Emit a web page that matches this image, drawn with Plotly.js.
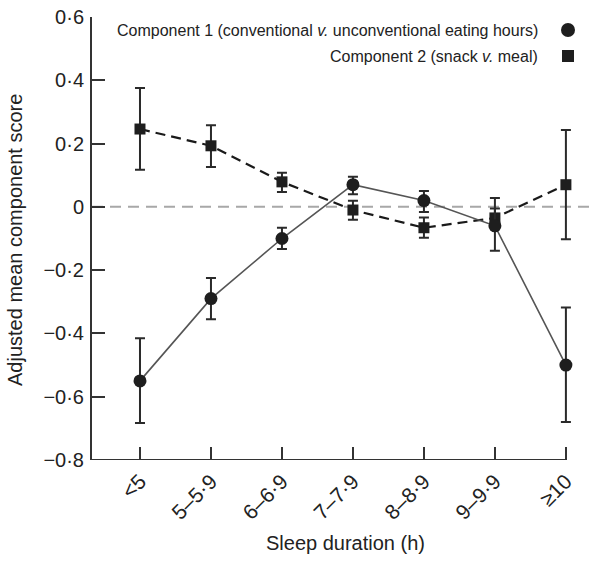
<!DOCTYPE html>
<html>
<head>
<meta charset="utf-8">
<script src="https://cdn.plot.ly/plotly-3.0.1.min.js"></script>
<style>
html,body{margin:0;padding:0;background:#fff;}
#chart{width:604px;height:564px;}
</style>
</head>
<body>
<div id="chart"></div>
<script>
// ---- data ----
var categories = ['<5', '5–5·9', '6–6·9', '7–7·9', '8–8·9', '9–9·9', '≥10'];

var comp1Mean  = [-0.55, -0.29, -0.10, 0.07, 0.02, -0.06, -0.50];
var comp1Upper = [-0.415, -0.225, -0.066, 0.095, 0.05, 0.028, -0.318];
var comp1Lower = [-0.683, -0.355, -0.133, 0.04, -0.016, -0.139, -0.68];

var comp2Mean  = [0.246, 0.193, 0.079, -0.01, -0.066, -0.035, 0.07];
var comp2Upper = [0.376, 0.258, 0.108, 0.019, -0.034, -0.005, 0.243];
var comp2Lower = [0.117, 0.126, 0.047, -0.041, -0.098, -0.065, -0.102];

var yTickVals = [0.6, 0.4, 0.2, 0, -0.2, -0.4, -0.6, -0.8];
var yTickText = ['0·6', '0·4', '0·2', '0', '−0·2', '−0·4', '−0·6', '−0·8'];

var legendLabels = [
  'Component 1 (conventional <i>v.</i> unconventional eating hours)',
  'Component 2 (snack <i>v.</i> meal)'
];

// ---- helpers ----
function diff(a, b) { return a.map(function (v, i) { return Math.round((v - b[i]) * 1000) / 1000; }); }

var FONT = 'Liberation Sans, Arial, sans-serif';
var INK = '#1e1e1e';

var trace1 = {
  x: categories, y: comp1Mean, type: 'scatter', mode: 'lines+markers',
  line: {color: '#555555', width: 1.6},
  marker: {symbol: 'circle', size: 13, color: INK},
  error_y: {type: 'data', symmetric: false, array: diff(comp1Upper, comp1Mean),
            arrayminus: diff(comp1Mean, comp1Lower), color: '#2a2a2a', thickness: 2, width: 5},
  cliponaxis: false, showlegend: false
};
var trace2 = {
  x: categories, y: comp2Mean, type: 'scatter', mode: 'lines+markers',
  line: {color: '#1a1a1a', width: 2.2, dash: '10px,6px'},
  marker: {symbol: 'square', size: 11, color: INK},
  error_y: {type: 'data', symmetric: false, array: diff(comp2Upper, comp2Mean),
            arrayminus: diff(comp2Mean, comp2Lower), color: '#2a2a2a', thickness: 2, width: 5},
  cliponaxis: false, showlegend: false
};

var L = 92, R = 9, T = 17, B = 104;
var W = 604, H = 564;
var pw = W - L - R, ph = H - T - B;
function px(xpix) { return (xpix - L) / pw; }
function py(ypix) { return (H - B - ypix) / ph; }

var layout = {
  width: W, height: H,
  margin: {l: L, r: R, t: T, b: B, pad: 0},
  paper_bgcolor: '#fff', plot_bgcolor: '#fff',
  showlegend: false,
  font: {family: FONT, color: '#222', size: 19},
  xaxis: {
    type: 'category', categoryorder: 'array', categoryarray: categories,
    range: [-0.676, 6.41],
    showline: false, showgrid: false, zeroline: false,
    ticks: 'inside', ticklen: 13, tickwidth: 2, tickcolor: '#333',
    tickangle: -45, tickfont: {size: 21, family: FONT, color: '#222'},
    ticklabelstandoff: 4
  },
  yaxis: {
    range: [-0.8, 0.6], showline: true, linecolor: '#333', linewidth: 2,
    showgrid: false, zeroline: false,
    ticks: 'inside', ticklen: 13, tickwidth: 2, tickcolor: '#333',
    tickvals: yTickVals, ticktext: yTickText,
    tickfont: {size: 20, family: FONT, color: '#222'},
    ticklabelstandoff: 2
  },
  shapes: [
    // zero reference line
    {type: 'line', xref: 'paper', yref: 'y', x0: 0, x1: 1, y0: 0, y1: 0,
     line: {color: '#a8a8a8', width: 2, dash: '11px,7px'}, layer: 'below'},
    // x-axis line (ends at last category)
    {type: 'line', xref: 'x', yref: 'y', x0: -0.676, x1: 6, y0: -0.8, y1: -0.8,
     line: {color: '#333', width: 2}},
    // legend symbols
    {type: 'circle', xref: 'paper', yref: 'paper', xsizemode: 'pixel', ysizemode: 'pixel',
     xanchor: px(568), yanchor: py(30), x0: -7, x1: 7, y0: -7, y1: 7,
     fillcolor: INK, line: {width: 0}},
    {type: 'rect', xref: 'paper', yref: 'paper', xsizemode: 'pixel', ysizemode: 'pixel',
     xanchor: px(568), yanchor: py(56), x0: -6, x1: 6, y0: -6, y1: 6,
     fillcolor: INK, line: {width: 0}}
  ],
  annotations: [
    {text: legendLabels[0], xref: 'paper', yref: 'paper', x: px(540), y: py(30),
     xanchor: 'right', yanchor: 'middle', showarrow: false, font: {size: 16, family: FONT, color: '#222'}},
    {text: legendLabels[1], xref: 'paper', yref: 'paper', x: px(540), y: py(56),
     xanchor: 'right', yanchor: 'middle', showarrow: false, font: {size: 16, family: FONT, color: '#222'}},
    {text: 'Adjusted mean component score', xref: 'paper', yref: 'paper', x: px(15), y: py(240),
     xanchor: 'center', yanchor: 'middle', textangle: -90, showarrow: false,
     font: {size: 20, family: FONT, color: '#222'}},
    {text: 'Sleep duration (h)', xref: 'paper', yref: 'paper', x: px(345), y: py(543),
     xanchor: 'center', yanchor: 'middle', showarrow: false,
     font: {size: 20, family: FONT, color: '#222'}}
  ]
};

Plotly.newPlot('chart', [trace2, trace1], layout, {displayModeBar: false, staticPlot: true});
</script>
</body>
</html>
